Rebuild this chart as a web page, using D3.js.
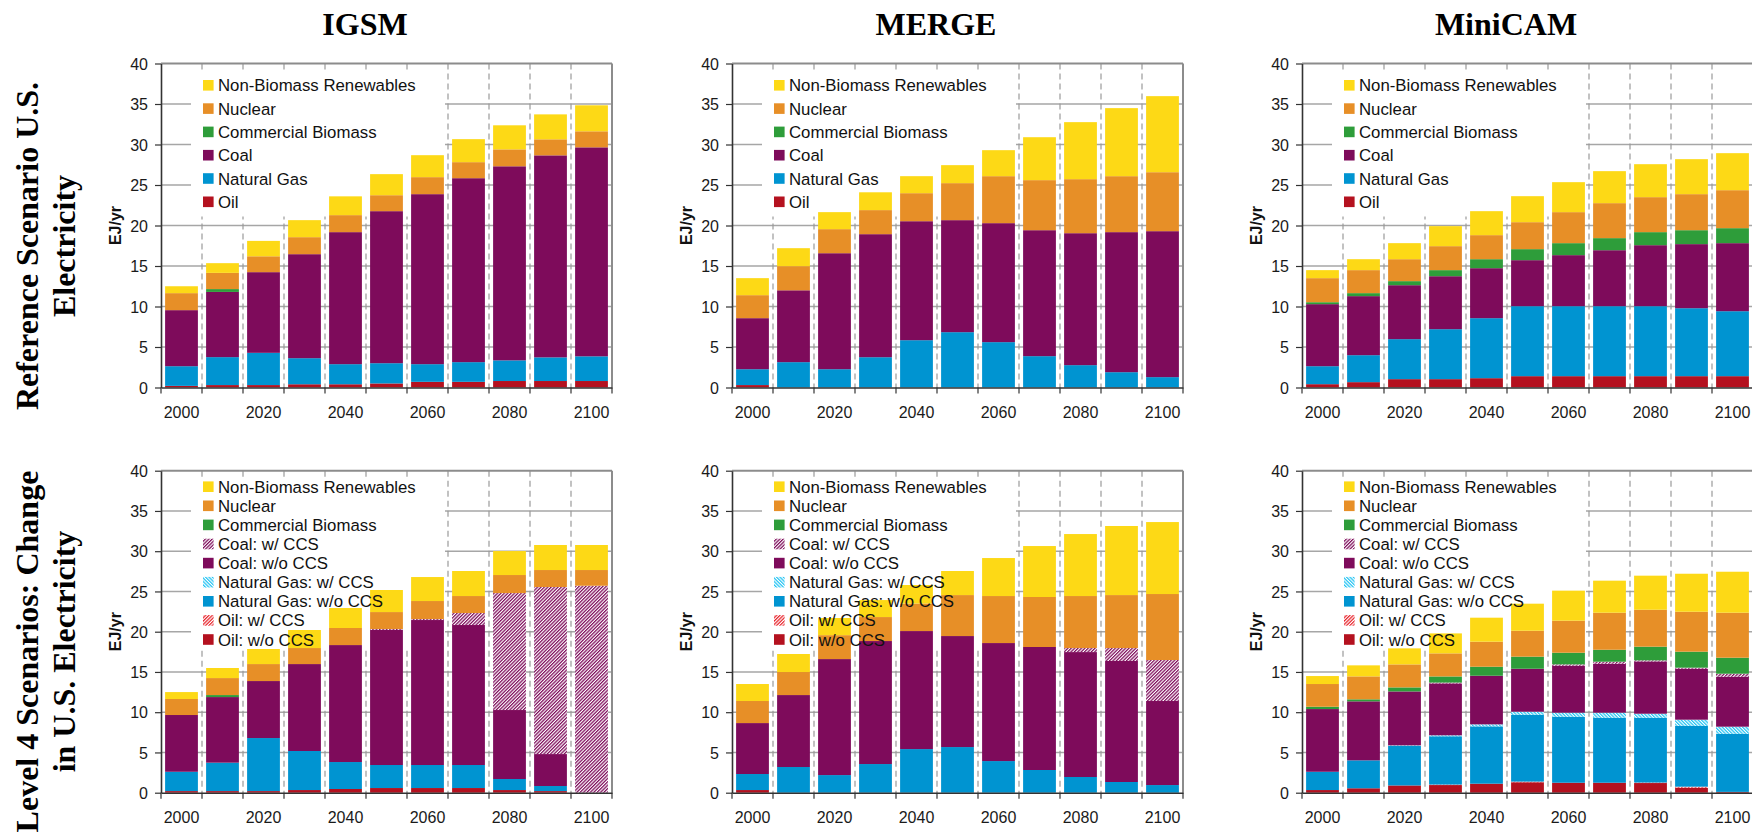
<!DOCTYPE html>
<html>
<head>
<meta charset="utf-8">
<script src="https://cdn.jsdelivr.net/npm/d3@7/dist/d3.min.js"></script>
<style>
  html, body { margin: 0; padding: 0; background: #fff; }
  svg { display: block; }
  .tick text { font-family: 'Liberation Sans', Arial, sans-serif; font-size: 16px; fill: #1a1a1a; }
  .legend text { font-family: 'Liberation Sans', Arial, sans-serif; font-size: 16.8px; fill: #111; }
  .unit { font-family: 'Liberation Sans', Arial, sans-serif; font-size: 16px; font-weight: bold; fill: #111; }
  .title { font-family: 'Liberation Serif', 'Times New Roman', serif; font-size: 32px; font-weight: bold; fill: #000; }
</style>
</head>
<body>
<svg id="chart" width="1752" height="832"></svg>
<script>

const years = [2000, 2010, 2020, 2030, 2040, 2050, 2060, 2070, 2080, 2090, 2100]
const yTicks = [0, 5, 10, 15, 20, 25, 30, 35, 40]
const xLabelYears = [2000, 2020, 2040, 2060, 2080, 2100]

const models = ['IGSM', 'MERGE', 'MiniCAM']
const rowTitles = [
    ['Reference Scenario U.S.', 'Electricity'],
    ['Level 4 Scenarios: Change', 'in U.S. Electricity']
]

// stacking order, bottom to top (legend lists them the other way round)
const refKeys = ['Oil', 'Natural Gas', 'Coal', 'Commercial Biomass', 'Nuclear', 'Non-Biomass Renewables']
const l4Keys = ['Oil: w/o CCS', 'Oil: w/ CCS', 'Natural Gas: w/o CCS', 'Natural Gas: w/ CCS',
    'Coal: w/o CCS', 'Coal: w/ CCS', 'Commercial Biomass', 'Nuclear', 'Non-Biomass Renewables']

// EJ/yr, one array per key in refKeys order
const igsmRef = [
    [0.2, 0.3, 0.3, 0.4, 0.4, 0.5, 0.7, 0.7, 0.8, 0.8, 0.8],
    [2.43, 3.45, 3.98, 3.22, 2.48, 2.5, 2.18, 2.43, 2.55, 2.92, 3.05],
    [6.92, 8.05, 9.96, 12.84, 16.3, 18.77, 20.99, 22.71, 23.96, 24.94, 25.8],
    [0, 0.35, 0, 0, 0, 0, 0, 0, 0, 0, 0],
    [2.1, 2.0, 1.96, 2.1, 2.1, 1.97, 2.1, 1.98, 2.09, 1.98, 1.98],
    [0.85, 1.2, 1.9, 2.1, 2.32, 2.6, 2.71, 2.84, 2.97, 3.08, 3.21]
]
const mergeRef = [
    [0.3, 0, 0, 0, 0, 0, 0, 0, 0, 0, 0],
    [1.96, 3.13, 2.26, 3.74, 5.84, 6.83, 5.6, 3.87, 2.76, 1.89, 1.28],
    [6.3, 8.87, 14.32, 15.19, 14.69, 13.83, 14.69, 15.55, 16.29, 17.29, 18.02],
    [0, 0, 0, 0, 0, 0, 0, 0, 0, 0, 0],
    [2.84, 2.98, 2.97, 2.97, 3.46, 4.57, 5.8, 6.18, 6.67, 6.91, 7.28],
    [2.1, 2.22, 2.1, 2.2, 2.1, 2.22, 3.21, 5.3, 7.04, 8.4, 9.39]
]
const minicamRef = [
    [0.41, 0.66, 1.03, 1.03, 1.15, 1.4, 1.4, 1.4, 1.4, 1.4, 1.4],
    [2.22, 3.33, 4.94, 6.17, 7.41, 8.64, 8.64, 8.64, 8.64, 8.39, 8.02],
    [7.66, 7.29, 6.66, 6.54, 6.17, 5.68, 6.3, 6.91, 7.53, 7.91, 8.4],
    [0.24, 0.37, 0.5, 0.75, 1.11, 1.36, 1.48, 1.49, 1.61, 1.72, 1.85],
    [2.97, 2.84, 2.71, 2.96, 2.97, 3.33, 3.83, 4.32, 4.32, 4.45, 4.69],
    [0.99, 1.35, 1.98, 2.47, 2.96, 3.21, 3.7, 3.95, 4.07, 4.32, 4.57]
]

// one array per key in l4Keys order
const igsmL4 = [
    [0.2, 0.2, 0.2, 0.33, 0.46, 0.58, 0.58, 0.58, 0.33, 0.2, 0],
    [0, 0, 0, 0, 0, 0, 0, 0, 0, 0, 0],
    [2.4, 3.53, 6.59, 4.85, 3.35, 2.86, 2.86, 2.86, 1.37, 0.63, 0],
    [0, 0, 0, 0, 0, 0, 0, 0, 0, 0, 0],
    [7.05, 8.15, 7.08, 10.8, 14.53, 16.77, 18.01, 17.39, 8.57, 3.97, 0],
    [0, 0, 0, 0, 0, 0.12, 0.12, 1.49, 14.53, 20.75, 25.71],
    [0, 0.25, 0, 0, 0, 0, 0, 0, 0, 0, 0],
    [1.99, 2.11, 2.11, 1.99, 2.12, 2.11, 2.24, 2.11, 2.24, 2.11, 1.95],
    [0.86, 1.25, 1.87, 2.24, 2.48, 2.74, 2.98, 3.11, 2.98, 3.11, 3.11]
]
const mergeL4 = [
    [0.33, 0, 0, 0, 0, 0, 0, 0, 0, 0, 0],
    [0, 0, 0, 0, 0, 0, 0, 0, 0, 0, 0],
    [1.99, 3.19, 2.19, 3.56, 5.42, 5.67, 3.93, 2.82, 1.95, 1.33, 0.95],
    [0, 0, 0, 0, 0, 0, 0, 0, 0, 0, 0],
    [6.33, 8.94, 14.41, 15.28, 14.66, 13.79, 14.66, 15.28, 15.52, 15.03, 10.44],
    [0, 0, 0, 0, 0, 0, 0, 0, 0.5, 1.61, 5.09],
    [0, 0, 0, 0, 0, 0, 0, 0, 0, 0, 0],
    [2.74, 2.86, 2.97, 2.98, 3.42, 5.09, 5.84, 6.21, 6.46, 6.58, 8.2],
    [2.11, 2.24, 2.13, 2.11, 2.3, 2.99, 4.72, 6.33, 7.7, 8.58, 8.94]
]
const minicamL4 = [
    [0.33, 0.55, 0.9, 0.95, 1.12, 1.3, 1.24, 1.24, 1.2, 0.62, 0.1],
    [0, 0, 0, 0.06, 0, 0.08, 0, 0, 0.06, 0.13, 0],
    [2.27, 3.47, 4.9, 6.0, 7.12, 8.31, 8.2, 8.08, 8.06, 7.57, 7.23],
    [0, 0, 0.08, 0.12, 0.25, 0.37, 0.5, 0.62, 0.49, 0.75, 0.87],
    [7.79, 7.33, 6.7, 6.45, 6.04, 5.34, 5.84, 6.08, 6.5, 6.33, 6.21],
    [0, 0, 0, 0.1, 0, 0, 0.16, 0.25, 0.13, 0.13, 0.37],
    [0.29, 0.25, 0.5, 0.76, 1.12, 1.5, 1.45, 1.49, 1.7, 1.99, 1.99],
    [2.82, 2.85, 2.86, 2.87, 3.11, 3.22, 3.98, 4.6, 4.59, 4.96, 5.59],
    [0.99, 1.37, 1.99, 2.48, 2.98, 3.36, 3.73, 3.98, 4.23, 4.72, 5.09]
]

const colors = {
    oil: '#b4111f',
    gas: '#0094d1',
    coal: '#7e0b5b',
    biomass: '#2e9d3a',
    nuclear: '#e78f27',
    renew: '#fdd916'
}

const plotW = 451
const panelLeft = [161, 732, 1302]

const rows = [
    { top: 63.5, bottom: 387.5, keys: refKeys, data: [igsmRef, mergeRef, minicamRef],
      legendY0: 21.8, legendStep: 23.3, boxBottom: 153 },
    { top: 470.7, bottom: 792.7, keys: l4Keys, data: [igsmL4, mergeL4, minicamL4],
      legendY0: 16, legendStep: 19.1, boxBottom: 179 }
]

const svg = d3.select('#chart')
svg.append('rect').attr('width', 1752).attr('height', 832).attr('fill', '#fff')

const defs = svg.append('defs')

// fine diagonal hatch, reads as a tinted texture like the original
function hatch (id, color, angle) {
    const p = defs.append('pattern')
        .attr('id', id)
        .attr('patternUnits', 'userSpaceOnUse')
        .attr('width', 2.4)
        .attr('height', 2.4)
        .attr('patternTransform', `rotate(${angle})`)
    p.append('rect').attr('width', 2.4).attr('height', 2.4).attr('fill', '#fff')
    p.append('rect').attr('width', 1.25).attr('height', 2.4).attr('fill', color)
}

hatch('hatch-coal', '#7e0b5b', 45)
hatch('hatch-gas', '#22c4f4', -45)
hatch('hatch-oil', '#e8242c', 45)

function fillFor (key) {
    if (key === 'Oil: w/ CCS') return 'url(#hatch-oil)'
    if (key === 'Natural Gas: w/ CCS') return 'url(#hatch-gas)'
    if (key === 'Coal: w/ CCS') return 'url(#hatch-coal)'
    if (key.startsWith('Oil')) return colors.oil
    if (key.startsWith('Natural Gas')) return colors.gas
    if (key.startsWith('Coal')) return colors.coal
    if (key === 'Commercial Biomass') return colors.biomass
    if (key === 'Nuclear') return colors.nuclear
    return colors.renew
}

function drawPanel (left, row, values) {

    const h = row.bottom - row.top
    const g = svg.append('g').attr('transform', `translate(${left},${row.top})`)

    const x = d3.scaleBand().domain(years).range([0, plotW]).paddingInner(0.2).paddingOuter(0.1)
    const y = d3.scaleLinear().domain([0, 40]).range([h, 0])

    const half = x.step() * x.paddingInner() / 2
    const bounds = years.map(yr => x(yr) - half).concat([plotW])

    // gridlines
    g.append('g').selectAll('line').data(yTicks.filter(t => t > 0 && t < 40)).enter()
        .append('line')
        .attr('x1', 0).attr('x2', plotW)
        .attr('y1', d => y(d)).attr('y2', d => y(d))
        .attr('stroke', '#a6a6a6').attr('stroke-width', 1.5)

    g.append('g').selectAll('line').data(bounds.slice(1, -1)).enter()
        .append('line')
        .attr('x1', d => d).attr('x2', d => d)
        .attr('y1', 0).attr('y2', h)
        .attr('stroke', '#9a9a9a').attr('stroke-width', 1.2)
        .attr('stroke-dasharray', '6,4')

    // frame top and right
    g.append('line').attr('x1', 0).attr('x2', plotW).attr('y1', y(40)).attr('y2', y(40))
        .attr('stroke', '#8c8c8c').attr('stroke-width', 2)
    g.append('line').attr('x1', plotW).attr('x2', plotW).attr('y1', 0).attr('y2', h)
        .attr('stroke', '#8c8c8c').attr('stroke-width', 2)

    // legend background hides the gridlines but sits under the bars
    g.append('rect')
        .attr('x', 30).attr('y', 7)
        .attr('width', 254).attr('height', row.boxBottom - 7)
        .attr('fill', '#fff')

    const table = years.map((yr, i) => {
        const d = { year: yr }
        row.keys.forEach((k, j) => { d[k] = values[j][i] })
        return d
    })

    const series = d3.stack().keys(row.keys)(table)

    g.append('g').selectAll('g').data(series).enter()
        .append('g')
        .attr('fill', s => fillFor(s.key))
        .selectAll('rect').data(s => s.filter(d => d[1] - d[0] > 0)).enter()
        .append('rect')
        .attr('x', d => x(d.data.year))
        .attr('width', x.bandwidth())
        .attr('y', d => y(d[1]))
        .attr('height', d => y(d[0]) - y(d[1]))

    // y axis
    const yAxis = d3.axisLeft(y).tickValues(yTicks).tickSize(6).tickSizeOuter(0).tickPadding(7)
    const yg = g.append('g').call(yAxis)
    yg.select('.domain').attr('stroke', '#333').attr('stroke-width', 1.6)
    yg.selectAll('.tick line').attr('stroke', '#333').attr('stroke-width', 1.2)
    yg.selectAll('.tick text').attr('dy', '0.36em')

    // x axis: labels every other year, ticks on the category boundaries
    const xAxis = d3.axisBottom(x).tickValues(xLabelYears).tickSize(0).tickSizeOuter(0)
    const xg = g.append('g').attr('transform', `translate(0,${h})`).call(xAxis)
    xg.select('.domain').attr('stroke', '#333').attr('stroke-width', 1.6)
    xg.selectAll('.tick text').attr('y', 30.5).attr('dy', 0)

    xg.append('g').selectAll('line').data(bounds).enter()
        .append('line')
        .attr('x1', d => d).attr('x2', d => d)
        .attr('y1', 0).attr('y2', 6)
        .attr('stroke', '#333').attr('stroke-width', 1.2)

    g.append('text')
        .attr('class', 'unit')
        .attr('transform', `translate(-40,${h / 2}) rotate(-90)`)
        .attr('text-anchor', 'middle')
        .text('EJ/yr')

    // legend
    const items = row.keys.slice().reverse()
    const lg = g.append('g').attr('class', 'legend')
    const item = lg.selectAll('g').data(items).enter()
        .append('g')
        .attr('transform', (d, i) => `translate(42,${row.legendY0 + i * row.legendStep})`)
    item.append('rect')
        .attr('x', 0).attr('y', -5.3)
        .attr('width', 10.6).attr('height', 10.6)
        .attr('fill', d => fillFor(d))
    item.append('text')
        .attr('x', 15).attr('dy', '0.36em')
        .text(d => d)
}

rows.forEach(row => {
    panelLeft.forEach((left, m) => drawPanel(left, row, row.data[m]))
})

// model titles
svg.selectAll('.model').data(models).enter()
    .append('text')
    .attr('class', 'title')
    .attr('x', (d, i) => panelLeft[i] + 204)
    .attr('y', 35)
    .attr('text-anchor', 'middle')
    .text(d => d)

// row titles, rotated
const rowCenters = [246, 651.5]
rowTitles.forEach((lines, r) => {
    lines.forEach((line, k) => {
        svg.append('text')
            .attr('class', 'title')
            .attr('transform', `translate(${37.5 + k * 37},${rowCenters[r]}) rotate(-90)`)
            .attr('text-anchor', 'middle')
            .text(line)
    })
})

</script>
</body>
</html>
